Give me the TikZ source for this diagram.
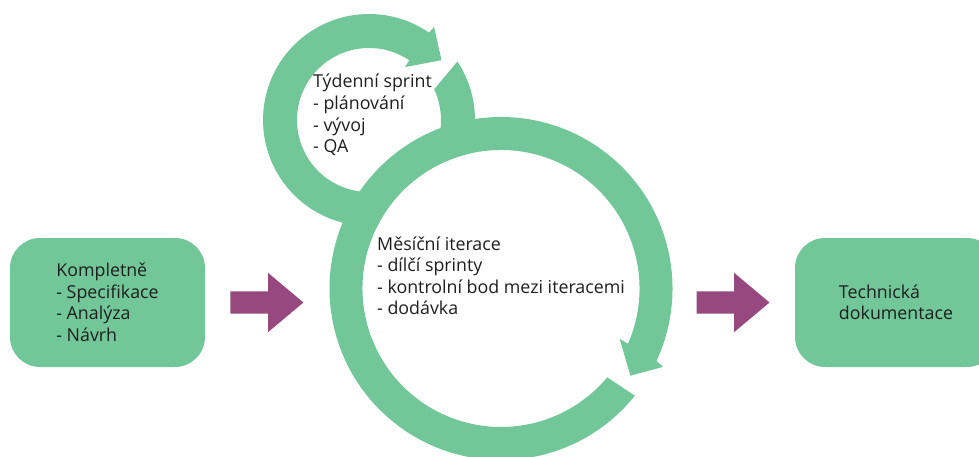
\documentclass[tikz,border=0pt]{standalone}
\usepackage{fontspec}
\setmainfont{Open Sans}
\usetikzlibrary{positioning,shapes.arrows}
\definecolor{ringgreen}{HTML}{72C799}
\definecolor{flowpurple}{HTML}{97487F}
\definecolor{textdark}{HTML}{1E1E1E}
\tikzset{
  phasebox/.style={fill=ringgreen, rounded corners=30pt, minimum height=129pt,
    align=left, inner sep=0pt},
  flowarrow/.style={single arrow, fill=flowpurple, minimum height=73pt,
    inner xsep=0pt, inner ysep=11pt, single arrow head extend=18.5pt,
    single arrow tip angle=80},
  cycletext/.style={align=left, anchor=base west, inner sep=0pt}
}

\begin{document}
\begin{tikzpicture}[x=1pt,y=1pt,font=\fontsize{17.8pt}{21.5pt}\selectfont,text=textdark]
    \useasboundingbox (0,0) rectangle (979,456);
    %% Boxes
    \node[phasebox, minimum width=195pt] (spec) at (107.5,153.5)
        {Kompletně\\- Specifikace\\- Analýza\\- Návrh};
    \node[phasebox, minimum width=202pt] (docs) at (896,153.5)
        {Technická\\dokumentace};
    %% Arrows
    \node[flowarrow, right=25pt of spec] (arrL) {};
    \node[flowarrow, left=25pt of docs] (arrR) {};
    %% Ring centres
    \coordinate (weekc) at (369,336);
    \coordinate (monthc) at (501,167.5);
    %% Weekly ring
    \fill[ringgreen, shift={(weekc)}] (33.5:106pt)
        arc[start angle=33.5, end angle=-304.5, radius=106pt]
        -- (-305:113.5pt) -- (-320.5:94pt) -- (-304.2:64pt) -- (-304:72pt)
        arc[start angle=-304, end angle=25.2, radius=72pt] -- cycle;
    %% Monthly ring
    \fill[white] (monthc) circle[radius=138.5pt];
    \fill[ringgreen, shift={(monthc)}] (-38.7:171.5pt)
        arc[start angle=-38.7, end angle=-385, radius=171.5pt]
        -- (-385.8:180pt) -- (-394:156pt) -- (-383:129pt) -- (-383.5:138.5pt)
        arc[start angle=-383.5, end angle=-39.9, radius=138.5pt] -- cycle;
    %% Labels (anchored at the baseline of the last line)
    \node[cycletext] (weektext) at (313,303.5)
        {Týdenní sprint\\- plánování\\- vývoj\\- QA};
    \node[cycletext] (monthtext) at (377,141.5)
        {Měsíční iterace\\- dílčí sprinty\\- kontrolní bod mezi iteracemi\\- dodávka};
\end{tikzpicture}
\end{document}
